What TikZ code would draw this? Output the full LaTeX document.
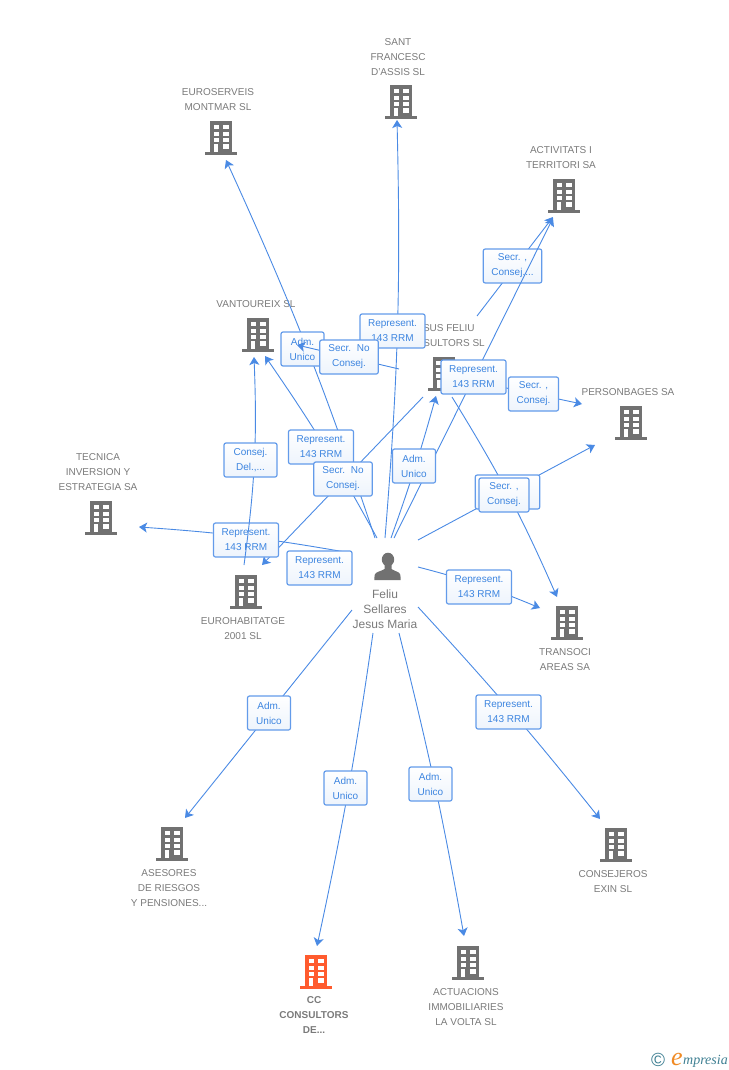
\documentclass[tikz,border=0pt]{standalone}
\usepackage{fontspec}
\setmainfont{Liberation Sans}
\newfontfamily\logofont{Liberation Serif}
\usetikzlibrary{arrows.meta}
\definecolor{edgeblue}{HTML}{4A8AE4}
\definecolor{labblue}{HTML}{3D85E0}
\definecolor{labedge}{HTML}{639BEA}
\definecolor{bldgray}{HTML}{717171}
\definecolor{bldred}{HTML}{FF5B2E}
\definecolor{txtgray}{HTML}{7A7A7A}
\definecolor{logoteal}{HTML}{3E7F92}
\definecolor{logoorange}{HTML}{F08A24}
\tikzset{
  link/.style={draw=edgeblue,line width=0.9pt},
  arr/.style={link,-{Stealth[length=8pt,width=10pt,inset=2pt]}},
  lab/.style={draw=labedge,line width=1.2pt,rounded corners=2pt,top color=white,bottom color=labblue!9,
    minimum height=34pt,inner sep=0pt,align=center,text=labblue,font=\fontsize{10}{15}\selectfont},
  rep/.style={lab,minimum width=65pt},
  adm/.style={lab,minimum width=43pt},
  sec/.style={lab,minimum width=58.5pt},
  secs/.style={lab,minimum width=50pt},
  cons/.style={lab,minimum width=53pt},
  entname/.style={inner sep=0pt,align=center,text=txtgray,font=\fontsize{10}{15}\selectfont},
}
% building icon: centre x, top y, colour
\newcommand{\bldicon}[4]{%
  \begin{scope}[shift={(#2,#3)}]
    \fill[#4] (-16,31) rectangle (15.7,33.7);
    \fill[#4] (-11,0) rectangle (11.3,31);
    \foreach \r/\s in {4/8.3,10.7/15,17/21.3}{
      \fill[white] (-7.3,\r) rectangle (-2,\s);
      \fill[white] (2.3,\r) rectangle (7.7,\s);
    }
    \fill[white] (2.3,23.3) rectangle (7.7,27.7);
    \fill[white] (-7,23.3) rectangle (-2.7,31);
    \coordinate (#1) at (0,17);
  \end{scope}}
\begin{document}
\begin{tikzpicture}[x=1pt,y=-1pt]
\useasboundingbox (0,0) rectangle (728,1070);
% buildings
\bldicon{bSant}{401}{85}{bldgray}
\bldicon{bEuro}{221}{121}{bldgray}
\bldicon{bActi}{564}{179}{bldgray}
\bldicon{bVant}{258}{318}{bldgray}
\bldicon{bPers}{631}{406}{bldgray}
\bldicon{bTecn}{101}{501}{bldgray}
\bldicon{bEuha}{246}{575}{bldgray}
\bldicon{bTran}{567}{606}{bldgray}
\bldicon{bAses}{172}{827}{bldgray}
\bldicon{bCons}{616}{828}{bldgray}
\bldicon{bCC}{316}{955}{bldred}
\bldicon{bActu}{468}{946}{bldgray}
% names
\node[entname] (nSant) at (398,57) {SANT\\FRANCESC\\D'ASSIS SL};
\node[entname] (nEuro) at (218,99.5) {EUROSERVEIS\\MONTMAR SL};
\node[entname] (nActi) at (561,157.5) {ACTIVITATS I\\TERRITORI SA};
\node[entname] (nVant) at (256,304) {VANTOUREIX SL};
\node[entname] (nJesu) at (443,335.5) {JESUS FELIU\\CONSULTORS SL};
\node[entname] (nPers) at (628,392) {PERSONBAGES SA};
\node[entname] (nTecn) at (98,472) {TECNICA\\INVERSION Y\\ESTRATEGIA SA};
\node[entname] (nEuha) at (243,628.5) {EUROHABITATGE\\2001 SL};
\node[entname] (nTran) at (565,659.5) {TRANSOCI\\AREAS SA};
\node[entname] (nAses) at (169,888) {ASESORES\\DE RIESGOS\\Y PENSIONES...};
\node[entname] (nCons) at (613,881.5) {CONSEJEROS\\EXIN SL};
\node[entname,font=\fontsize{10}{15}\selectfont\bfseries] (nCC) at (314,1015) {CC\\CONSULTORS\\DE...};
\node[entname] (nActu) at (466,1007) {ACTUACIONS\\IMMOBILIARIES\\LA VOLTA SL};
\node[entname,font=\fontsize{12}{15}\selectfont] (nFeli) at (385,609) {Feliu\\Sellares\\Jesus Maria};
% person icon
\fill[bldgray] (388,559.5) ellipse (6.2 and 6.8);
\fill[bldgray] (374.3,580) -- (374.6,575) .. controls (375.5,571.5) and (381,571.5) .. (384.5,569) -- (384.5,564) -- (391.5,564) -- (391.5,569) .. controls (395,571.5) and (399.8,571.5) .. (400.4,575) -- (400.7,580) -- cycle;
% end points
\coordinate (pEuro) at (375,538); \coordinate (tEuro) at (226,160);
\coordinate (pVant) at (377,538); \coordinate (tVant) at (265,356);
\coordinate (pSant) at (385,538); \coordinate (tSant) at (397,120);
\coordinate (pJesu) at (391,538); \coordinate (tJesu) at (436,396);
\coordinate (pActi) at (394,538); \coordinate (tActi) at (553,218);
\coordinate (pPers) at (418,540); \coordinate (tPers) at (595,445);
\coordinate (pTran) at (418,567); \coordinate (tTran) at (540,608);
\coordinate (pTecn) at (345,552); \coordinate (tTecn) at (139,527);
\coordinate (pAses) at (352,610); \coordinate (tAses) at (185,818);
\coordinate (pCC) at (373,633); \coordinate (tCC) at (317,946);
\coordinate (pActu) at (399,633); \coordinate (tActu) at (464,936);
\coordinate (pCons) at (418,607); \coordinate (tCons) at (600,819);
\coordinate (jEuha) at (423,397); \coordinate (tEuha) at (262,565);
\coordinate (jAdm) at (399,369); \coordinate (tAdm) at (297,345);
\coordinate (jActi) at (477,316); \coordinate (tActi2) at (553,217);
\coordinate (jPers) at (459,378); \coordinate (tPers2) at (582,404);
\coordinate (jTran) at (452,397); \coordinate (tTran2) at (557,597);
\coordinate (eUp) at (244,565); \coordinate (tVant2) at (254,357);
% edges and labels, back to front
\draw[arr] (jActi) -- (tActi2);
\node[sec] (lSecA) at (512.5,266) {Secr. ,\\Consej....};
\draw[arr] (pEuro) to[bend right=3] (tEuro);
\draw[arr] (pVant) to[bend right=3] (tVant);
\draw[arr] (pSant) to[bend right=3] (tSant);
\draw[arr] (pJesu) to[bend right=2] (tJesu);
\draw[arr] (pActi) -- (tActi);
\draw[arr] (jPers) -- (tPers2);
\draw[arr] (jTran) to[bend left=4] (tTran2);
\draw[arr] (pPers) -- (tPers);
\draw[arr] (jEuha) -- (tEuha);
\draw[arr] (pTecn) to[bend right=3] (tTecn);
\bldicon{bJesu}{443.5}{357}{bldgray}
\node[adm] (lAdmA) at (302.5,349) {Adm.\\Unico};
\node[rep] (lRepS) at (392.5,331) {Represent.\\143 RRM};
\draw[arr] (jAdm) -- (tAdm);
\node[sec] (lSecN) at (349,357) {Secr.\ \ No\\Consej.};
\node[rep] (lRepJ) at (473.5,377) {Represent.\\143 RRM};
\node[secs] (lSecP) at (533.5,394) {Secr. ,\\Consej.};
\node[rep] (lRepV) at (321,447) {Represent.\\143 RRM};
\node[sec] (lSecE) at (343,479) {Secr.\ \ No\\Consej.};
\node[adm] (lAdmJ) at (414,466) {Adm.\\Unico};
\node[lab,minimum width=64.5pt] (lBack) at (507.5,492) {};
\node[secs] (lSecT) at (504,495) {Secr. ,\\Consej.};
\node[rep] (lRepT) at (246,540) {Represent.\\143 RRM};
\node[rep] (lRepE) at (319.5,568) {Represent.\\143 RRM};
\draw[arr] (eUp) to[bend right=5] (tVant2);
\node[cons] (lCons) at (250.5,460) {Consej.\\Del.,...};
\draw[arr] (pTran) to[bend left=4] (tTran);
\node[rep] (lRepP) at (479,587) {Represent.\\143 RRM};
\draw[arr] (pAses) -- (tAses);
\node[adm] (lAdmS) at (269,713) {Adm.\\Unico};
\draw[arr] (pCC) to[bend left=2] (tCC);
\node[adm] (lAdmC) at (345.5,788) {Adm.\\Unico};
\draw[arr] (pActu) to[bend left=2] (tActu);
\node[adm] (lAdmV) at (430.5,784) {Adm.\\Unico};
\draw[arr] (pCons) to[bend left=2] (tCons);
\node[rep] (lRepC) at (508.5,712) {Represent.\\143 RRM};
% logo
\node[inner sep=0pt,text=logoteal,font=\fontsize{19}{19}\selectfont] (logoC) at (658,1059.5) {©};
\node[inner sep=0pt,text=logoorange,anchor=base west,font=\fontsize{26}{26}\logofont\itshape] (logoE) at (671,1065) {e};
\node[inner sep=0pt,text=logoteal,anchor=base west,font=\fontsize{14}{14}\logofont\itshape] (logoT) at (683,1064) {mpresia};
\end{tikzpicture}
\end{document}
